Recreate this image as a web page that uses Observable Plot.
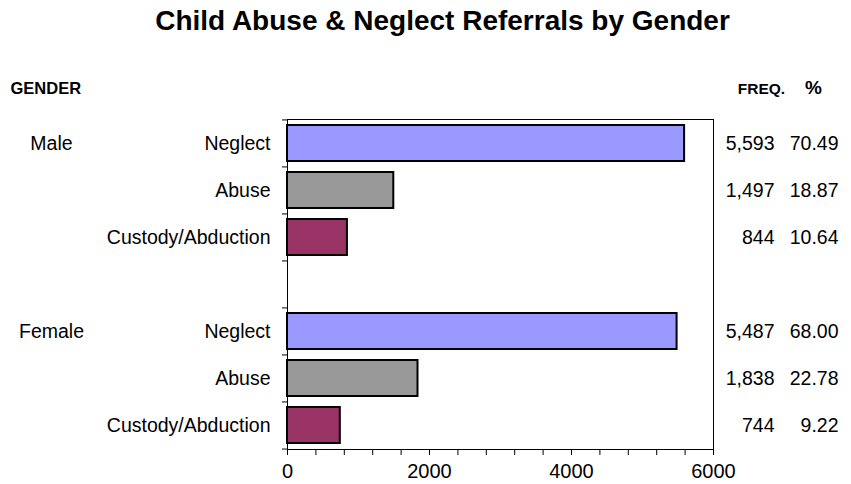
<!DOCTYPE html>
<html><head><meta charset="utf-8">
<script src="https://cdn.jsdelivr.net/npm/d3@7"></script>
<script src="https://cdn.jsdelivr.net/npm/@observablehq/plot@0.6"></script>
<style>
body{margin:0;background:#fff;}
svg{font-family:"Liberation Sans", Arial, sans-serif;}
</style>
</head><body><div id="chart"></div>
<script>
const title = "Child Abuse & Neglect Referrals by Gender";
const genders = ["Male", "Female"];
const categories = ["Neglect", "Abuse", "Custody/Abduction"];
const frequencies = [[5593, 1497, 844], [5487, 1838, 744]];
const percents = [[70.49, 18.87, 10.64], [68.00, 22.78, 9.22]];
const colors = ["#9999FF", "#999999", "#993366"];
const xTicks = d3.range(0, 6001, 400);
const xLabels = [0, 2000, 4000, 6000];

const rows = [];
genders.forEach((g, gi) => categories.forEach((c, ci) => rows.push({
  gender: g, category: c, key: g + "|" + c,
  freq: frequencies[gi][ci], pct: percents[gi][ci], first: ci === 0
})));
const domain = [...rows.slice(0, 3).map(d => d.key), "gap", ...rows.slice(3).map(d => d.key)];

const W = 851, H = 484, mL = 287, mR = 138, mT = 119, mB = 35;
const step = (H - mT - mB) / domain.length;
const fs = 19.5;

const chart = Plot.plot({
  width: W, height: H,
  marginLeft: mL, marginRight: mR, marginTop: mT, marginBottom: mB,
  style: {color: "#000", background: "#fff"},
  x: {domain: [0, 6000], axis: null, label: null},
  y: {domain, axis: null, label: null, paddingInner: 0.23, paddingOuter: 0.115},
  color: {domain: categories, range: colors},
  marks: [
    Plot.barX(rows, {x: "freq", y: "key", fill: "category", stroke: "#000", strokeWidth: 2}),
    Plot.frame({stroke: "#000", strokeWidth: 1}),
    Plot.axisY({ticks: domain, tickSize: 5, tickFormat: () => "", label: null, dy: -step / 2}),
    Plot.axisY({ticks: [domain[domain.length - 1]], tickSize: 5, tickFormat: () => "", label: null, dy: step / 2}),
    Plot.axisX({ticks: xTicks, tickSize: 6, tickPadding: 8, fontSize: 20, label: null,
      tickFormat: d => xLabels.includes(d) ? String(d) : ""}),
    Plot.text(rows, {y: "key", text: "category", frameAnchor: "left", textAnchor: "end", dx: -17, fontSize: fs}),
    Plot.text(rows.filter(d => d.first), {y: "key", text: "gender", frameAnchor: "left", textAnchor: "middle", dx: 51 - mL, fontSize: fs}),
    Plot.text(rows, {y: "key", text: d => d3.format(",")(d.freq), frameAnchor: "right", textAnchor: "end", dx: 61, fontSize: fs}),
    Plot.text(rows, {y: "key", text: d => d.pct.toFixed(2), frameAnchor: "right", textAnchor: "end", dx: 125, fontSize: fs}),
    Plot.text([title], {frameAnchor: "top", lineAnchor: "middle", dx: 442 - (mL + W - mR) / 2, dy: 21 - mT, fontSize: 28, fontWeight: "bold"}),
    Plot.text(["GENDER"], {frameAnchor: "top-left", textAnchor: "start", lineAnchor: "middle", dx: 10 - mL, dy: 88 - mT, fontSize: 16.5, fontWeight: "bold"}),
    Plot.text(["FREQ."], {frameAnchor: "top-right", textAnchor: "middle", lineAnchor: "middle", dx: 761 - (W - mR), dy: 89 - mT, fontSize: 15.5, fontWeight: "bold"}),
    Plot.text(["%"], {frameAnchor: "top-right", textAnchor: "middle", lineAnchor: "middle", dx: 813 - (W - mR), dy: 87 - mT, fontSize: 19, fontWeight: "bold"})
  ]
});
document.getElementById("chart").append(chart);
</script>
</body></html>
